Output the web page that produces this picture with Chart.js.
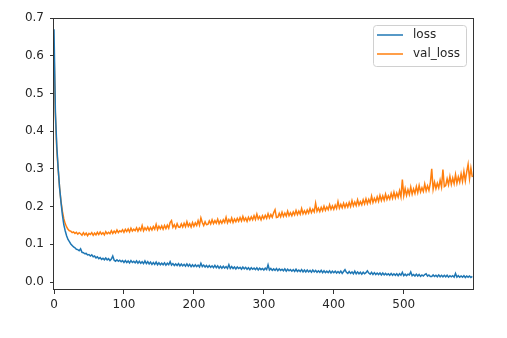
<!DOCTYPE html>
<html>
<head>
<meta charset="utf-8">
<script src="https://cdn.jsdelivr.net/npm/chart.js@4"></script>
<style>
  body { margin: 0; background: #fff; }
  canvas { display: block; }
</style>
</head>
<body>
<canvas id="lossChart" width="507" height="338"></canvas>
<script>
// Training history, one value every 2 epochs (0, 2, 4 ... 598)
const loss = [
  0.670, 0.450, 0.360, 0.300, 0.250, 0.212, 0.178, 0.152, 0.136, 0.123,
  0.113, 0.107, 0.101, 0.097, 0.093, 0.091, 0.087, 0.086, 0.083, 0.088,
  0.079, 0.078, 0.075, 0.076, 0.072, 0.073, 0.069, 0.072, 0.067, 0.069,
  0.064, 0.067, 0.062, 0.065, 0.060, 0.063, 0.059, 0.064, 0.059, 0.062,
  0.057, 0.061, 0.069, 0.058, 0.055, 0.059, 0.055, 0.058, 0.054, 0.057,
  0.052, 0.057, 0.052, 0.056, 0.051, 0.057, 0.052, 0.055, 0.051, 0.056,
  0.050, 0.055, 0.050, 0.054, 0.049, 0.056, 0.049, 0.054, 0.048, 0.053,
  0.047, 0.052, 0.047, 0.053, 0.046, 0.051, 0.046, 0.050, 0.046, 0.051,
  0.045, 0.050, 0.046, 0.054, 0.045, 0.049, 0.044, 0.048, 0.044, 0.049,
  0.043, 0.048, 0.043, 0.047, 0.042, 0.048, 0.042, 0.047, 0.041, 0.046,
  0.041, 0.046, 0.041, 0.045, 0.040, 0.050, 0.041, 0.045, 0.040, 0.044,
  0.039, 0.044, 0.039, 0.043, 0.038, 0.044, 0.038, 0.043, 0.037, 0.042,
  0.037, 0.042, 0.037, 0.041, 0.036, 0.046, 0.036, 0.041, 0.036, 0.040,
  0.035, 0.040, 0.036, 0.039, 0.034, 0.040, 0.035, 0.039, 0.034, 0.038,
  0.033, 0.038, 0.034, 0.037, 0.033, 0.038, 0.032, 0.037, 0.033, 0.036,
  0.032, 0.037, 0.033, 0.046, 0.032, 0.036, 0.031, 0.035, 0.031, 0.036,
  0.030, 0.035, 0.031, 0.034, 0.030, 0.035, 0.029, 0.034, 0.030, 0.033,
  0.029, 0.033, 0.028, 0.034, 0.028, 0.032, 0.028, 0.033, 0.027, 0.032,
  0.027, 0.032, 0.027, 0.031, 0.026, 0.032, 0.027, 0.031, 0.026, 0.030,
  0.026, 0.031, 0.025, 0.030, 0.025, 0.029, 0.025, 0.030, 0.024, 0.029,
  0.025, 0.029, 0.024, 0.028, 0.024, 0.029, 0.023, 0.028, 0.033, 0.026,
  0.023, 0.028, 0.023, 0.027, 0.022, 0.029, 0.022, 0.027, 0.022, 0.026,
  0.021, 0.026, 0.022, 0.025, 0.030, 0.024, 0.021, 0.026, 0.020, 0.025,
  0.020, 0.024, 0.020, 0.024, 0.019, 0.024, 0.019, 0.023, 0.019, 0.022,
  0.018, 0.023, 0.018, 0.022, 0.018, 0.022, 0.017, 0.022, 0.018, 0.026,
  0.017, 0.021, 0.017, 0.021, 0.019, 0.027, 0.017, 0.020, 0.016, 0.021,
  0.016, 0.020, 0.015, 0.019, 0.016, 0.020, 0.022, 0.016, 0.019, 0.015,
  0.015, 0.019, 0.015, 0.018, 0.014, 0.019, 0.014, 0.018, 0.014, 0.018,
  0.014, 0.018, 0.013, 0.017, 0.014, 0.017, 0.013, 0.023, 0.013, 0.017,
  0.013, 0.016, 0.013, 0.017, 0.012, 0.016, 0.013, 0.016, 0.012, 0.015
];
const valLoss = [
  0.620, 0.440, 0.350, 0.298, 0.250, 0.214, 0.188, 0.168, 0.155, 0.146,
  0.140, 0.136, 0.135, 0.131, 0.133, 0.129, 0.132, 0.127, 0.131, 0.128,
  0.124, 0.131, 0.125, 0.130, 0.123, 0.129, 0.126, 0.131, 0.124, 0.130,
  0.125, 0.132, 0.126, 0.133, 0.127, 0.131, 0.125, 0.134, 0.128, 0.132,
  0.128, 0.136, 0.129, 0.135, 0.130, 0.138, 0.131, 0.136, 0.133, 0.139,
  0.132, 0.140, 0.134, 0.141, 0.133, 0.143, 0.135, 0.140, 0.136, 0.144,
  0.135, 0.143, 0.137, 0.150, 0.136, 0.144, 0.138, 0.146, 0.137, 0.145,
  0.138, 0.147, 0.140, 0.153, 0.139, 0.148, 0.141, 0.149, 0.140, 0.150,
  0.142, 0.151, 0.143, 0.158, 0.163, 0.145, 0.152, 0.143, 0.155, 0.146,
  0.145, 0.154, 0.146, 0.156, 0.147, 0.160, 0.148, 0.155, 0.146, 0.158,
  0.148, 0.157, 0.150, 0.163, 0.151, 0.170, 0.158, 0.150, 0.160, 0.152,
  0.153, 0.162, 0.154, 0.165, 0.155, 0.163, 0.156, 0.167, 0.155, 0.163,
  0.156, 0.165, 0.158, 0.172, 0.157, 0.166, 0.159, 0.170, 0.158, 0.167,
  0.160, 0.169, 0.161, 0.171, 0.162, 0.174, 0.163, 0.170, 0.161, 0.172,
  0.164, 0.173, 0.165, 0.176, 0.166, 0.180, 0.167, 0.174, 0.165, 0.176,
  0.168, 0.177, 0.169, 0.181, 0.170, 0.179, 0.172, 0.184, 0.192, 0.171,
  0.172, 0.182, 0.173, 0.185, 0.174, 0.183, 0.175, 0.188, 0.176, 0.184,
  0.176, 0.186, 0.178, 0.190, 0.179, 0.188, 0.180, 0.195, 0.181, 0.189,
  0.181, 0.191, 0.183, 0.195, 0.184, 0.193, 0.186, 0.209, 0.188, 0.196,
  0.187, 0.198, 0.189, 0.201, 0.190, 0.199, 0.192, 0.205, 0.193, 0.202,
  0.193, 0.204, 0.195, 0.213, 0.196, 0.206, 0.197, 0.209, 0.198, 0.208,
  0.199, 0.211, 0.200, 0.216, 0.202, 0.212, 0.203, 0.218, 0.204, 0.213,
  0.205, 0.218, 0.207, 0.221, 0.208, 0.219, 0.210, 0.228, 0.211, 0.222,
  0.213, 0.226, 0.214, 0.230, 0.216, 0.228, 0.217, 0.233, 0.219, 0.229,
  0.220, 0.235, 0.222, 0.238, 0.223, 0.236, 0.225, 0.242, 0.226, 0.272,
  0.229, 0.248, 0.230, 0.245, 0.232, 0.252, 0.233, 0.247, 0.235, 0.253,
  0.237, 0.256, 0.239, 0.250, 0.240, 0.260, 0.242, 0.255, 0.243, 0.262,
  0.300, 0.246, 0.265, 0.248, 0.262, 0.250, 0.270, 0.252, 0.298, 0.253,
  0.256, 0.274, 0.258, 0.280, 0.259, 0.276, 0.261, 0.285, 0.262, 0.279,
  0.265, 0.287, 0.267, 0.293, 0.268, 0.292, 0.312, 0.274, 0.302, 0.278
];
const epochs = loss.map((_, i) => i * 2);

const xTicks = [0, 100, 200, 300, 400, 500];
const yTicks = [0.0, 0.1, 0.2, 0.3, 0.4, 0.5, 0.6, 0.7];

const FONT = "'DejaVu Sans', sans-serif";
const ink = '#262626';

// matplotlib style box round the axes
const spines = {
  id: 'spines',
  afterDraw(chart){
    const {ctx, chartArea: a} = chart;
    ctx.save();
    ctx.strokeStyle = '#333';
    ctx.lineWidth = 1;
    ctx.strokeRect(Math.round(a.left) - 0.5, Math.round(a.top) + 0.5,
      Math.round(a.right - a.left) + 1, Math.round(a.bottom - a.top) - 1);
    ctx.restore();
  }
};

// legend in the top right corner, inside the axes
const boxLegend = {
  id: 'boxLegend',
  afterDraw(chart){
    const {ctx, chartArea: a} = chart;
    const x = a.right - 100, y = a.top + 7, w = 93, h = 41;
    ctx.save();
    ctx.beginPath();
    ctx.roundRect(x + 0.5, y + 0.5, w, h, 3);
    ctx.fillStyle = 'rgba(255,255,255,0.8)';
    ctx.fill();
    ctx.strokeStyle = '#d0d0d0';
    ctx.lineWidth = 1;
    ctx.stroke();
    ctx.font = '12px ' + FONT;
    ctx.textBaseline = 'middle';
    chart.data.datasets.forEach((ds, i) => {
      const ly = y + 10 + i * 19;
      ctx.strokeStyle = ds.borderColor;
      ctx.lineWidth = 1.5;
      ctx.beginPath();
      ctx.moveTo(x + 4, ly);
      ctx.lineTo(x + 30, ly);
      ctx.stroke();
      ctx.fillStyle = ink;
      ctx.fillText(ds.label, x + 40, ly);
    });
    ctx.restore();
  }
};

new Chart(document.getElementById('lossChart'), {
  type: 'line',
  data: {
    datasets: [
      {label: 'loss', data: epochs.map((e, i) => ({x: e, y: loss[i]})), borderColor: '#1f77b4'},
      {label: 'val_loss', data: epochs.map((e, i) => ({x: e, y: valLoss[i]})), borderColor: '#ff7f0e'}
    ]
  },
  options: {
    responsive: false,
    animation: false,
    devicePixelRatio: 1,
    elements: {
      point: {radius: 0},
      line: {borderWidth: 1.5, tension: 0}
    },
    layout: {padding: {left: 0, right: 34, top: 18, bottom: 0}},
    plugins: {legend: {display: false}, tooltip: {enabled: false}},
    scales: {
      x: {
        type: 'linear', min: 0, max: 599,
        afterBuildTicks: s => { s.ticks = xTicks.map(v => ({value: v})); },
        afterFit: s => { s.height = 48; },
        grid: {drawOnChartArea: false, drawTicks: true, tickLength: 4, tickColor: '#333'},
        border: {display: false},
        ticks: {color: ink, font: {family: FONT, size: 12}, padding: 4, maxRotation: 0}
      },
      y: {
        min: -0.021, max: 0.7,
        afterBuildTicks: s => { s.ticks = yTicks.map(v => ({value: v})); },
        afterFit: s => { s.width = 54; },
        grid: {drawOnChartArea: false, drawTicks: true, tickLength: 4, tickColor: '#333'},
        border: {display: false},
        ticks: {color: ink, font: {family: FONT, size: 12}, padding: 6,
          callback: v => v.toFixed(1)}
      }
    }
  },
  plugins: [spines, boxLegend]
});
</script>
</body>
</html>
